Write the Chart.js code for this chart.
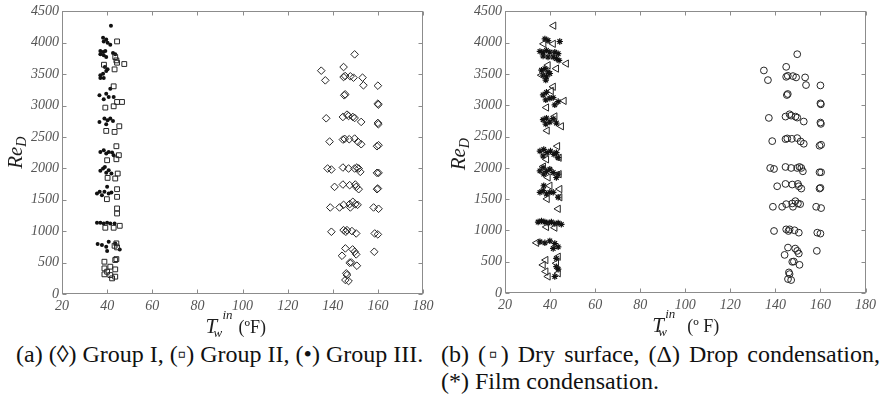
<!DOCTYPE html>
<html>
<head>
<meta charset="utf-8">
<script src="https://cdn.jsdelivr.net/npm/chart.js@4.4.1/dist/chart.umd.min.js"></script>
<style>
  html, body { margin: 0; padding: 0; background: #fff; }
  body { width: 884px; height: 395px; position: relative; overflow: hidden; font-family: "Times New Roman", "Liberation Serif", Tinos, "Nimbus Roman", serif; }
  .panel { position: absolute; top: 0; width: 440px; height: 340px; }
  #panelA { left: 0; }
  #panelB { left: 440px; }
  .caption { position: absolute; font-size: 24px; color: #111; white-space: nowrap; line-height: 27px; }
  #capA { left: 16px; top: 341px; }
  #capB { left: 441px; top: 341px; width: 439px; }
  #capB .l1 { text-align: justify; text-align-last: justify; }
</style>
</head>
<body>
<div class="panel" id="panelA"><canvas id="chartA" width="440" height="340"></canvas></div>
<div class="panel" id="panelB"><canvas id="chartB" width="440" height="340"></canvas></div>
<div class="caption" id="capA">(a) (&#9674;) Group I, (&#9643;) Group II, (&#8226;) Group III.</div>
<div class="caption" id="capB">
  <div class="l1">(b) (&#9643;) Dry surface, (&#916;) Drop condensation,</div>
  <div>(*) Film condensation.</div>
</div>
<script>
  const xTickValues = [20, 40, 60, 80, 100, 120, 140, 160, 180];
  const yTickValues = [0, 500, 1000, 1500, 2000, 2500, 3000, 3500, 4000, 4500];

  // [inlet water temperature (F), Re_D]
  const groupIPoints = [
    [134.9, 3556], [136.7, 3402], [149.7, 3816], [144.8, 3614], [144.8, 3455], [145.5, 3471],
    [147.8, 3466], [149.2, 3445], [153.2, 3445], [153.6, 3323], [160.0, 3317], [145.1, 3164],
    [145.5, 3180], [160.0, 3031], [160.2, 3015], [137.1, 2798], [144.5, 2819], [146.3, 2856],
    [147.0, 2835], [148.9, 2819], [149.7, 2803], [152.6, 2740], [160.0, 2724], [160.2, 2703],
    [138.6, 2427], [144.5, 2459], [145.3, 2470], [147.3, 2464], [149.7, 2475], [151.2, 2422],
    [152.6, 2385], [159.6, 2353], [160.3, 2369], [137.7, 1998], [139.4, 1982], [144.5, 2014],
    [147.0, 1998], [149.7, 1998], [150.7, 2014], [151.5, 1998], [152.2, 1945], [159.6, 1929],
    [160.3, 1929], [140.8, 1706], [144.5, 1743], [147.5, 1733], [150.0, 1743], [150.4, 1706],
    [151.5, 1669], [159.6, 1669], [160.0, 1680], [138.9, 1378], [143.0, 1378], [144.8, 1420],
    [147.5, 1431], [148.9, 1468], [150.0, 1431], [151.0, 1420], [147.8, 1378], [158.1, 1378],
    [160.3, 1357], [139.4, 991], [144.8, 1017], [146.3, 1017], [145.8, 991], [148.5, 1002],
    [150.4, 964], [158.6, 964], [160.0, 949], [144.1, 609], [145.6, 726], [148.8, 710],
    [149.7, 673], [150.4, 631], [147.5, 498], [148.2, 503], [150.7, 450], [158.4, 673],
    [146.0, 329], [146.3, 302], [145.6, 223], [147.0, 207]
  ];

  const groupIIPoints = [
    [44.4, 4022], [47.6, 3662], [43.6, 3773], [44.1, 3720], [44.4, 3683], [43.3, 3577],
    [38.6, 3651], [42.9, 3307], [39.2, 2968], [42.9, 2989], [44.4, 3058], [46.6, 3058],
    [45.4, 2671], [39.6, 2597], [43.3, 2581], [44.1, 2353], [45.2, 2210], [44.1, 2146],
    [40.0, 2130], [44.7, 1918], [43.6, 1839], [40.2, 1849], [44.4, 1669], [44.4, 1547],
    [39.9, 1510], [44.4, 1362], [44.4, 1282], [39.2, 1055], [42.9, 1055], [45.6, 1086],
    [44.1, 806], [43.3, 768], [44.4, 742], [38.8, 514], [43.6, 541], [44.1, 556],
    [38.8, 408], [41.4, 435], [43.6, 392], [38.8, 313], [41.4, 302], [43.6, 276],
    [42.2, 249], [40.0, 355]
  ];

  const groupIIIPoints = [
    [41.7, 4271], [38.2, 4081], [39.6, 4054], [40.2, 4001], [41.4, 3969], [38.5, 4022],
    [37.0, 3869], [38.2, 3853], [39.2, 3869], [37.0, 3816], [38.5, 3800], [39.6, 3773],
    [42.6, 3837], [43.6, 3816], [37.0, 3482], [38.2, 3508], [39.6, 3551], [40.2, 3577],
    [38.5, 3439], [37.0, 3439], [39.0, 3614], [36.6, 3164], [39.6, 3190], [40.7, 3137],
    [38.5, 3100], [41.4, 3270], [42.9, 3137], [36.6, 2740], [38.8, 2793], [40.2, 2766],
    [41.4, 2793], [42.6, 2756], [39.6, 2703], [37.0, 2263], [38.5, 2289], [39.6, 2236],
    [40.7, 2263], [42.9, 2210], [42.2, 2252], [37.0, 1961], [38.2, 1998], [39.6, 1929],
    [40.7, 1971], [39.0, 2024], [41.9, 1918], [35.5, 1600], [36.7, 1627], [37.7, 1574],
    [38.8, 1627], [40.0, 1706], [40.7, 1600], [41.9, 1616], [35.5, 1134], [37.0, 1134],
    [38.5, 1123], [40.0, 1134], [41.4, 1123], [43.3, 1123], [35.8, 795], [37.7, 779],
    [39.6, 752], [40.7, 832], [40.0, 684], [43.6, 806], [45.6, 710]
  ];

  const dropPoints = [
    [41.6, 4272], [37.2, 3982], [41.4, 3982], [47.2, 3666], [42.8, 3586], [36.2, 3481],
    [39.1, 3640], [41.4, 3296], [46.2, 3070], [38.4, 2964], [40.5, 3230], [45.0, 2664],
    [38.7, 2595], [42.1, 2822], [43.3, 2347], [44.0, 2162], [38.4, 2136], [44.0, 1899],
    [39.1, 1846], [44.3, 1661], [38.7, 1503], [39.9, 1714], [43.6, 1345], [38.4, 1055],
    [42.1, 1044], [34.0, 802], [38.1, 527], [36.9, 448], [38.1, 343], [39.1, 264],
    [42.8, 475], [43.6, 580], [43.6, 316], [44.3, 1530], [37.0, 2020]
  ];

  const filmPoints = [
    [37.7, 4061], [39.1, 4034], [44.3, 4019], [35.5, 3861], [36.9, 3850], [38.4, 3877],
    [39.9, 3850], [42.1, 3850], [43.6, 3824], [36.9, 3787], [39.1, 3771], [41.4, 3771],
    [42.8, 3745], [44.0, 3718], [36.2, 3560], [37.7, 3586], [39.1, 3534], [36.9, 3481],
    [38.4, 3455], [39.9, 3508], [38.1, 3402], [36.9, 3165], [38.4, 3207], [39.9, 3112],
    [38.1, 3086], [41.4, 3122], [43.6, 3059], [42.1, 3006], [36.9, 2769], [38.4, 2795],
    [39.9, 2732], [38.1, 2700], [41.4, 2785], [42.8, 2716], [35.5, 2268], [37.2, 2294],
    [38.7, 2242], [40.2, 2268], [41.7, 2215], [36.9, 2189], [43.6, 2162], [42.8, 2242],
    [35.5, 1951], [36.9, 2004], [38.4, 1941], [39.9, 1978], [41.4, 1925], [37.2, 1899],
    [43.6, 1899], [42.8, 1846], [35.5, 1609], [36.9, 1635], [38.4, 1582], [39.9, 1609],
    [41.4, 1609], [37.2, 1714], [43.6, 1530], [34.7, 1134], [36.2, 1150], [37.7, 1134],
    [39.1, 1118], [40.6, 1134], [42.1, 1108], [43.6, 1118], [45.0, 1097], [35.5, 818],
    [37.7, 802], [39.9, 833], [42.1, 791], [43.6, 738], [41.4, 712], [42.8, 554],
    [42.8, 422], [42.1, 264], [43.6, 380]
  ];

  const INK = "#262626";
  const FRAME = "#8c8c8c";
  const SERIF = "'Times New Roman', 'Liberation Serif', Tinos, 'Nimbus Roman', serif";
  const TICK_FONT = { family: SERIF, size: 14, style: "italic" };

  function toXY(list) {
    return list.map(function (p) { return { x: p[0], y: p[1] }; });
  }

  // box around the plot plus short inward tick marks on all four sides
  const frameTicks = {
    id: "frameTicks",
    afterDatasetsDraw(chart) {
      const ctx = chart.ctx;
      const a = chart.chartArea;
      const xs = chart.scales.x;
      const ys = chart.scales.y;
      const L = Math.round(a.left) + 0.5, R = Math.round(a.right) - 0.5;
      const T = Math.round(a.top) + 0.5, B = Math.round(a.bottom) - 0.5;
      ctx.save();
      ctx.strokeStyle = FRAME;
      ctx.lineWidth = 1;
      ctx.strokeRect(L, T, R - L, B - T);
      ctx.beginPath();
      xTickValues.forEach(function (v) {
        const px = Math.round(xs.getPixelForValue(v)) + 0.5;
        ctx.moveTo(px, B); ctx.lineTo(px, B - 4);
        ctx.moveTo(px, T); ctx.lineTo(px, T + 4);
      });
      yTickValues.forEach(function (v) {
        const py = Math.round(ys.getPixelForValue(v)) + 0.5;
        ctx.moveTo(L, py); ctx.lineTo(L + 4, py);
        ctx.moveTo(R, py); ctx.lineTo(R - 4, py);
      });
      ctx.stroke();
      ctx.restore();
    }
  };

  // Re_D and T_w^in axis titles (sub/superscripts drawn by hand)
  const axisTitles = {
    id: "axisTitles",
    afterDraw(chart, args, opts) {
      const ctx = chart.ctx;
      const a = chart.chartArea;
      ctx.save();
      ctx.fillStyle = "#1e1e1e";
      ctx.textBaseline = "alphabetic";

      // x title
      const x0 = (a.left + a.right) / 2 + opts.xShift;
      const base = a.bottom + 39;
      ctx.font = "italic 21px " + SERIF;
      ctx.fillText("T", x0, base);
      ctx.font = "italic 13px " + SERIF;
      ctx.fillText("w", x0 + opts.subGap, base + 4);
      ctx.fillText("in", x0 + opts.supGap, base - 14);
      ctx.font = "18px " + SERIF;
      ctx.fillText(opts.unit, x0 + opts.unitGap, base);

      // y title, rotated
      ctx.translate(opts.yBase, (a.top + a.bottom) / 2 + opts.yShift);
      ctx.rotate(-Math.PI / 2);
      ctx.font = "italic 21px " + SERIF;
      const wRe = ctx.measureText("Re").width;
      ctx.font = "italic 14px " + SERIF;
      const wD = ctx.measureText("D").width;
      const start = -(wRe + wD) / 2;
      ctx.font = "italic 21px " + SERIF;
      ctx.fillText("Re", start, 0);
      ctx.font = "italic 14px " + SERIF;
      ctx.fillText("D", start + wRe, 4);
      ctx.restore();
    }
  };

  function plainNumber(v) { return String(v); }

  function makeScales(yWidth, xHeight) {
    return {
      x: {
        type: "linear",
        min: 20,
        max: 180,
        afterBuildTicks: function (s) { s.ticks = xTickValues.map(function (v) { return { value: v }; }); },
        afterFit: function (s) { s.height = xHeight; },
        grid: { display: false, drawTicks: false },
        border: { display: false },
        ticks: { font: TICK_FONT, color: "#555", padding: 4, maxRotation: 0, autoSkip: false, callback: plainNumber }
      },
      y: {
        type: "linear",
        min: 0,
        max: 4500,
        afterBuildTicks: function (s) { s.ticks = yTickValues.map(function (v) { return { value: v }; }); },
        afterFit: function (s) { s.width = yWidth; },
        grid: { display: false, drawTicks: false },
        border: { display: false },
        ticks: { font: TICK_FONT, color: "#555", padding: 3, autoSkip: false, callback: plainNumber }
      }
    };
  }

  function openMarker(points, style, radius, extra) {
    return Object.assign({
      data: toXY(points),
      pointStyle: style,
      pointRadius: radius,
      pointBorderWidth: 1,
      pointBorderColor: INK,
      pointBackgroundColor: "rgba(0,0,0,0)",
      showLine: false
    }, extra || {});
  }

  const baseOptions = {
    responsive: false,
    animation: false,
    events: [],
    plugins: { legend: { display: false }, tooltip: { enabled: false } }
  };

  new Chart(document.getElementById("chartA"), {
    type: "scatter",
    data: {
      datasets: [
        openMarker(groupIPoints, "rectRot", 3.8),
        openMarker(groupIIPoints, "rect", 3.4),
        {
          data: toXY(groupIIIPoints),
          pointStyle: "circle",
          pointRadius: 2,
          pointBorderWidth: 0,
          pointBackgroundColor: "#111",
          showLine: false
        }
      ]
    },
    options: Object.assign({}, baseOptions, {
      layout: { padding: { top: 11, right: 17, left: 0, bottom: 0 } },
      scales: makeScales(62, 46),
      plugins: Object.assign({}, baseOptions.plugins, {
        axisTitles: { xShift: -37, subGap: 8, supGap: 17, unitGap: 33, unit: "(\u00baF)", yBase: 22, yShift: 0 }
      })
    }),
    plugins: [frameTicks, axisTitles]
  });

  new Chart(document.getElementById("chartB"), {
    type: "scatter",
    data: {
      datasets: [
        openMarker(groupIPoints, "circle", 3.4),
        openMarker(dropPoints, "triangle", 4.2, { rotation: -90 }),
        openMarker(filmPoints, "star", 3.2, { pointBorderColor: "#111", pointBorderWidth: 1.2 })
      ]
    },
    options: Object.assign({}, baseOptions, {
      layout: { padding: { top: 9, right: 13, left: 0, bottom: 0 } },
      scales: makeScales(65, 47),
      plugins: Object.assign({}, baseOptions.plugins, {
        axisTitles: { xShift: -33, subGap: 6, supGap: 13, unitGap: 35, unit: "(\u00ba F)", yBase: 25, yShift: 2 }
      })
    }),
    plugins: [frameTicks, axisTitles]
  });
</script>
</body>
</html>
